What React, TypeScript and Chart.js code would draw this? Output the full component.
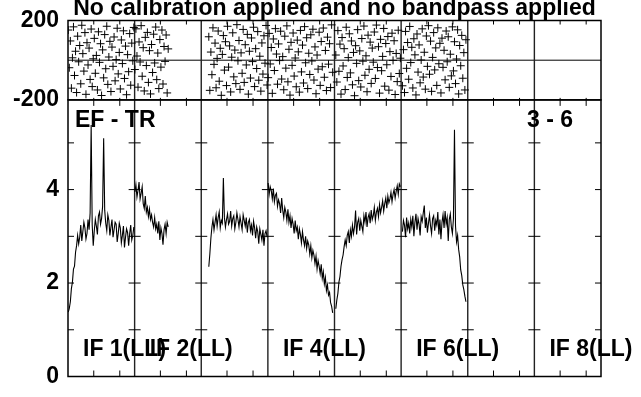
import React, { useEffect, useRef } from "react";
import { Chart, registerables } from "chart.js";

Chart.register(...registerables);

// ---------------- data ----------------
const TITLE = "No calibration applied and no bandpass applied";
const BASELINE_LABEL = "EF - TR";
const TIME_LABEL = "3 - 6";
const N_IF = 8;
const N_CHAN = 128;
const CHAN_STEP = 2;
const PHASE_MIN = -200;
const PHASE_MAX = 200;
const AMP_MIN = 0;
const AMP_MAX = 5.92;
const PHASE_TICKS = [-200, 200];
const AMP_TICKS = [0, 2, 4];
const AMP_MINOR_TICKS = [1, 2, 3, 4, 5];
const CHAN_TICKS = [50, 100];
const IF_LABEL_IFS = [1, 2, 4, 6, 8];
const IF_LABEL_TEXTS = ["IF 1(LL)", "IF 2(LL)", "IF 4(LL)", "IF 6(LL)", "IF 8(LL)"];

// first channel of each IF that has data
const IF_NUMBERS = [1, 2, 3, 4, 5, 6];
const IF_START_CHAN = [1, 1, 15, 1, 3, 3];

const AMP_IF1 = [
  1.38, 1.46, 1.60, 1.88, 2.02, 2.30, 2.36, 2.66, 2.80, 3.02,
  2.84, 2.98, 3.24, 2.90, 3.10, 3.30, 3.18, 2.94, 3.06, 3.36,
  3.14, 3.50, 5.38, 3.24, 2.80, 3.12, 3.36, 3.22, 3.04, 3.44,
  3.52, 3.26, 3.38, 3.64, 5.10, 3.56, 3.28, 3.12, 3.46, 3.34,
  3.02, 3.20, 3.36, 2.98, 3.14, 3.30, 3.26, 2.88, 3.06, 3.28,
  3.18, 2.86, 3.02, 3.22, 2.76, 2.98, 3.16, 3.08, 2.80, 3.06,
  3.24, 2.92, 3.02, 3.20,
];
const AMP_IF2 = [
  3.95, 4.10, 3.84, 3.98, 4.16, 3.80, 3.92, 4.06, 3.70, 3.60,
  3.86, 3.52, 3.62, 3.42, 3.58, 3.36, 3.46, 3.30, 3.20, 3.40,
  3.16, 3.26, 3.06, 3.32, 2.92, 3.18, 3.06, 2.82, 3.14, 3.26,
  3.06, 3.30, 3.20,
];
const AMP_IF3 = [
  2.35, 2.62, 2.96, 3.20, 3.36, 3.14, 3.30, 3.46, 3.22, 3.40,
  3.52, 3.18, 3.34, 3.28, 4.25, 3.40, 3.20, 3.36, 3.48, 3.26,
  3.32, 3.54, 3.22, 3.38, 3.44, 3.16, 3.30, 3.50, 3.36, 3.20,
  3.42, 3.28, 3.14, 3.46, 3.34, 3.22, 3.40, 3.08, 3.30, 3.36,
  3.12, 3.24, 3.02, 3.32, 3.18, 2.96, 3.20, 3.10, 2.84, 3.16,
  3.04, 2.92, 3.14, 2.80, 3.06, 3.12, 2.98,
];
const AMP_IF4 = [
  4.14, 3.90, 4.06, 3.98, 3.80, 4.02, 3.74, 3.88, 3.92, 3.64,
  3.78, 3.70, 3.50, 3.82, 3.56, 3.40, 3.62, 3.52, 3.34, 3.58,
  3.30, 3.44, 3.18, 3.38, 3.26, 3.06, 3.34, 3.12, 3.20, 2.94,
  3.16, 3.04, 2.86, 3.10, 2.92, 2.80, 3.00, 2.74, 2.90, 2.82,
  2.62, 2.80, 2.54, 2.70, 2.60, 2.42, 2.58, 2.30, 2.48, 2.36,
  2.20, 2.40, 2.10, 2.24, 1.98, 2.12, 1.84, 1.96, 1.74, 1.80,
  1.58, 1.50, 1.36,
];
const AMP_IF5 = [
  1.45, 1.64, 1.78, 2.02, 2.14, 2.36, 2.50, 2.60, 2.78, 2.92,
  2.80, 3.02, 3.10, 2.86, 3.14, 3.00, 3.24, 3.06, 3.20, 3.55,
  3.04, 3.30, 3.38, 3.12, 3.34, 3.22, 3.10, 3.44, 3.30, 3.52,
  3.20, 3.40, 3.48, 3.28, 3.56, 3.36, 3.44, 3.62, 3.34, 3.52,
  3.60, 3.42, 3.68, 3.50, 3.62, 3.76, 3.54, 3.70, 3.82, 3.60,
  3.86, 3.72, 3.80, 3.94, 3.74, 3.90, 4.00, 3.82, 3.96, 4.08,
  3.90, 4.12, 4.06,
];
const AMP_IF6 = [
  3.10, 3.34, 3.24, 2.98, 3.40, 3.16, 3.28, 3.06, 3.36, 3.20,
  3.44, 3.00, 3.30, 3.48, 3.14, 3.38, 3.26, 3.02, 3.42, 3.32,
  3.50, 3.66, 3.18, 3.40, 3.08, 3.28, 3.46, 3.22, 3.06, 3.38,
  3.44, 3.12, 3.34, 3.24, 3.52, 3.04, 3.36, 2.94, 3.30, 3.46,
  3.18, 3.54, 3.26, 3.40, 2.90, 3.36, 3.48, 3.20, 3.06, 3.38,
  5.28, 3.22, 2.88, 3.02, 2.72, 2.56, 2.28, 2.16, 1.96, 1.86,
  1.72, 1.60,
];

const PHASE_IF1 = [
  152, -38, 97, -141, 12, 168, -77, 45, -163, 121, -8, 74, -119, 176, 33, -55,
  139, -172, 88, -24, 61, -97, 157, -133, 7, 110, -66, 24, -150, 143, -11, 83,
  -178, 52, -89, 129, -43, 171, -122, 16, 95, -158, 66, -31, 117, -104, 3, 161,
  -69, 39, -145, 102, -17, 148, -92, 71, -174, 28, -58, 134, -126, 86, -3, 165,
];
const PHASE_IF2 = [
  -47, 158, 21, -136, 92, -9, 174, -81, 63, -155, 115, -27, 140, -112, 48, -170,
  79, -62, 131, -14, 167, -98, 36, -143, 104, -35, 152, -120, 69, -6, 127, -165,
  57,
];
const PHASE_IF3 = [
  118, -152, 41, -73, 163, -21, 86, -139, 9, 147, -106, 60, -177, 29, 124, -50,
  93, -128, 171, -35, 72, -160, 15, 138, -84, 51, -118, 179, -3, 99, -147, 37,
  -66, 155, -112, 78, -24, 130, -171, 45, -90, 112, -7, 166, -133, 58, -42, 144,
  -101, 20, -156, 87, -70, 123, -15, 175, -125,
];
const PHASE_IF4 = [
  -88, 135, -19, 64, -167, 107, -52, 159, 31, -121, 82, -2, 146, -95, 18, -149,
  121, -40, 173, -109, 55, -176, 90, -26, 137, -80, 11, -134, 101, 42, -161, 150,
  -59, 76, -115, 169, -13, 113, -143, 35, -72, 128, -4, 156, -100, 67, -169, 26,
  -45, 141, -127, 94, -33, 162, -86, 49, -153, 116, -20, 83, -138, 178, -61,
];
const PHASE_IF5 = [
  26, -110, 149, -56, 81, -171, 114, -29, 58, -148, 166, -87, 13, 133, -64, 97,
  -124, 39, -179, 73, -16, 154, -103, 47, -135, 109, -5, 172, -76, 22, -159, 126,
  -46, 91, -117, 61, -10, 142, -92, 177, -37, 68, -166, 105, -53, 19, 160, -131,
  84, -23, 119, -151, 43, -82, 136, -1, 98, -173, 34, -108, 151, -67, 10,
];
const PHASE_IF6 = [
  -129, 53, -163, 145, -41, 89, -96, 170, -12, 65, -140, 108, 27, -175, 132, -60,
  77, -114, 1, 158, -85, 40, -146, 122, -31, 174, -71, 96, -157, 14, 139, -49,
  62, -127, 163, -18, 85, -165, 111, -36, 50, -99, 147, -8, 118, -137, 30, -79,
  168, -54, 93, -118, 6, 153, -170, 74, -28, 125, -91, 38, -150, 103,
];

const AMP_SERIES = [AMP_IF1, AMP_IF2, AMP_IF3, AMP_IF4, AMP_IF5, AMP_IF6];
const PHASE_SERIES = [PHASE_IF1, PHASE_IF2, PHASE_IF3, PHASE_IF4, PHASE_IF5, PHASE_IF6];

// ---------------- helpers ----------------
const FONT_FAMILY = '"Liberation Sans", Arial, Helvetica, sans-serif';
const FONT_CSS = `bold 23px ${FONT_FAMILY}`;

function toPoints(ifn: number, start: number, vals: number[]) {
  return vals.map((v, i) => ({ x: (ifn - 1) * N_CHAN + start + i * CHAN_STEP, y: v }));
}

const framePlugin = {
  id: "aipsFrame",
  beforeDatasetsDraw(chart: any) {
    const { ctx, scales } = chart;
    const xs = scales.x, yP = scales.yP, yA = scales.yA;
    const L = chart.chartArea.left, R = chart.chartArea.right;
    const T = Math.min(yP.top, yA.top), B = Math.max(yP.bottom, yA.bottom);
    ctx.save();
    ctx.strokeStyle = "#000";
    ctx.lineWidth = 1;
    const y0 = yP.getPixelForValue(0);
    ctx.beginPath();
    ctx.moveTo(L, y0);
    ctx.lineTo(R, y0);
    ctx.stroke();
    ctx.strokeStyle = "#222";
    ctx.lineWidth = 1.4;
    for (let k = 1; k < N_IF; k++) {
      const x = xs.getPixelForValue(k * N_CHAN + 0.5);
      ctx.beginPath();
      ctx.moveTo(x, T);
      ctx.lineTo(x, B);
      ctx.stroke();
    }
    ctx.restore();
  },
  afterDraw(chart: any) {
    const { ctx, scales } = chart;
    const xs = scales.x, yP = scales.yP, yA = scales.yA;
    const L = chart.chartArea.left, R = chart.chartArea.right;
    ctx.save();
    ctx.strokeStyle = "#000";
    ctx.lineWidth = 1;
    for (const v of AMP_MINOR_TICKS) {
      const y = yA.getPixelForValue(v);
      ctx.beginPath();
      ctx.moveTo(L, y);
      ctx.lineTo(L + 6, y);
      ctx.moveTo(R - 6, y);
      ctx.lineTo(R, y);
      for (let k = 1; k < N_IF; k++) {
        const x = xs.getPixelForValue(k * N_CHAN + 0.5);
        ctx.moveTo(x - 6, y);
        ctx.lineTo(x + 6, y);
      }
      ctx.stroke();
    }
    for (let k = 0; k < N_IF; k++) {
      for (const c of CHAN_TICKS) {
        const x = xs.getPixelForValue(k * N_CHAN + c);
        ctx.beginPath();
        ctx.moveTo(x, yA.bottom);
        ctx.lineTo(x, yA.bottom - 6);
        ctx.moveTo(x, yA.top - 2);
        ctx.lineTo(x, yA.top + 6);
        ctx.moveTo(x, yP.top);
        ctx.lineTo(x, yP.top + 4);
        ctx.stroke();
      }
    }
    ctx.lineWidth = 1.5;
    ctx.strokeRect(L, yP.top, R - L, yP.bottom - yP.top);
    ctx.strokeRect(L, yA.top, R - L, yA.bottom - yA.top);
    ctx.fillStyle = "#000";
    ctx.font = FONT_CSS;
    ctx.textBaseline = "alphabetic";
    ctx.textAlign = "center";
    ctx.fillText(TITLE, (L + R) / 2, yP.top - 6);
    ctx.textAlign = "left";
    ctx.fillText(BASELINE_LABEL, L + 7, yA.top + 27);
    ctx.fillText(TIME_LABEL, R - 74, yA.top + 27);
    IF_LABEL_IFS.forEach((ifn, i) => {
      const x = xs.getPixelForValue((ifn - 1) * N_CHAN + 0.5) + 15;
      ctx.fillText(IF_LABEL_TEXTS[i], x, yA.bottom - 21);
    });
    ctx.restore();
  },
};

export default function App() {
  const ref = useRef<HTMLCanvasElement>(null);
  useEffect(() => {
    const datasets: any[] = [];
    IF_NUMBERS.forEach((ifn, i) => {
      datasets.push({
        label: `phase IF${ifn}`,
        data: toPoints(ifn, IF_START_CHAN[i], PHASE_SERIES[i]),
        yAxisID: "yP",
        showLine: false,
        pointStyle: "cross",
        pointRadius: 4,
        pointBorderWidth: 1,
        pointBorderColor: "#000",
        pointBackgroundColor: "#000",
      });
      datasets.push({
        label: `amp IF${ifn}`,
        data: toPoints(ifn, IF_START_CHAN[i], AMP_SERIES[i]),
        yAxisID: "yA",
        borderColor: "#000",
        borderWidth: 1.1,
        pointRadius: 0,
        tension: 0,
        fill: false,
      });
    });
    const tickFont = { family: FONT_FAMILY, size: 23, weight: "bold" as const, lineHeight: 1 };
    const chart = new Chart(ref.current as HTMLCanvasElement, {
      type: "line",
      data: { datasets },
      options: {
        animation: false,
        responsive: false,
        events: [],
        layout: { padding: { left: 0, right: 40, top: 15, bottom: 12 } },
        plugins: {
          legend: { display: false },
          tooltip: { enabled: false },
          title: { display: false },
        },
        scales: {
          x: { type: "linear", min: 0.5, max: N_IF * N_CHAN + 0.5, display: false },
          yA: {
            type: "linear",
            position: "left",
            stack: "panels",
            stackWeight: 287.5,
            min: AMP_MIN,
            max: AMP_MAX,
            grid: { display: false, drawTicks: false },
            border: { display: false },
            ticks: { padding: 9, color: "#000", font: tickFont, autoSkip: false },
            afterBuildTicks: (s: any) => {
              s.ticks = AMP_TICKS.map((v) => ({ value: v }));
            },
            afterFit: (s: any) => {
              s.width = 68;
            },
          },
          yP: {
            type: "linear",
            position: "left",
            stack: "panels",
            stackWeight: 82.5,
            min: PHASE_MIN,
            max: PHASE_MAX,
            grid: { display: false, drawTicks: false },
            border: { display: false },
            ticks: { padding: 9, color: "#000", font: tickFont, autoSkip: false },
            afterBuildTicks: (s: any) => {
              s.ticks = PHASE_TICKS.map((v) => ({ value: v }));
            },
            afterFit: (s: any) => {
              s.width = 68;
            },
          },
        },
      } as any,
      plugins: [framePlugin],
    });
    return () => chart.destroy();
  }, []);
  return (
    <div style={{ position: "absolute", left: 0, top: 0, width: 641, height: 397, background: "#fff" }}>
      <canvas ref={ref} width={641} height={397} style={{ display: "block", width: 641, height: 397 }} />
    </div>
  );
}
